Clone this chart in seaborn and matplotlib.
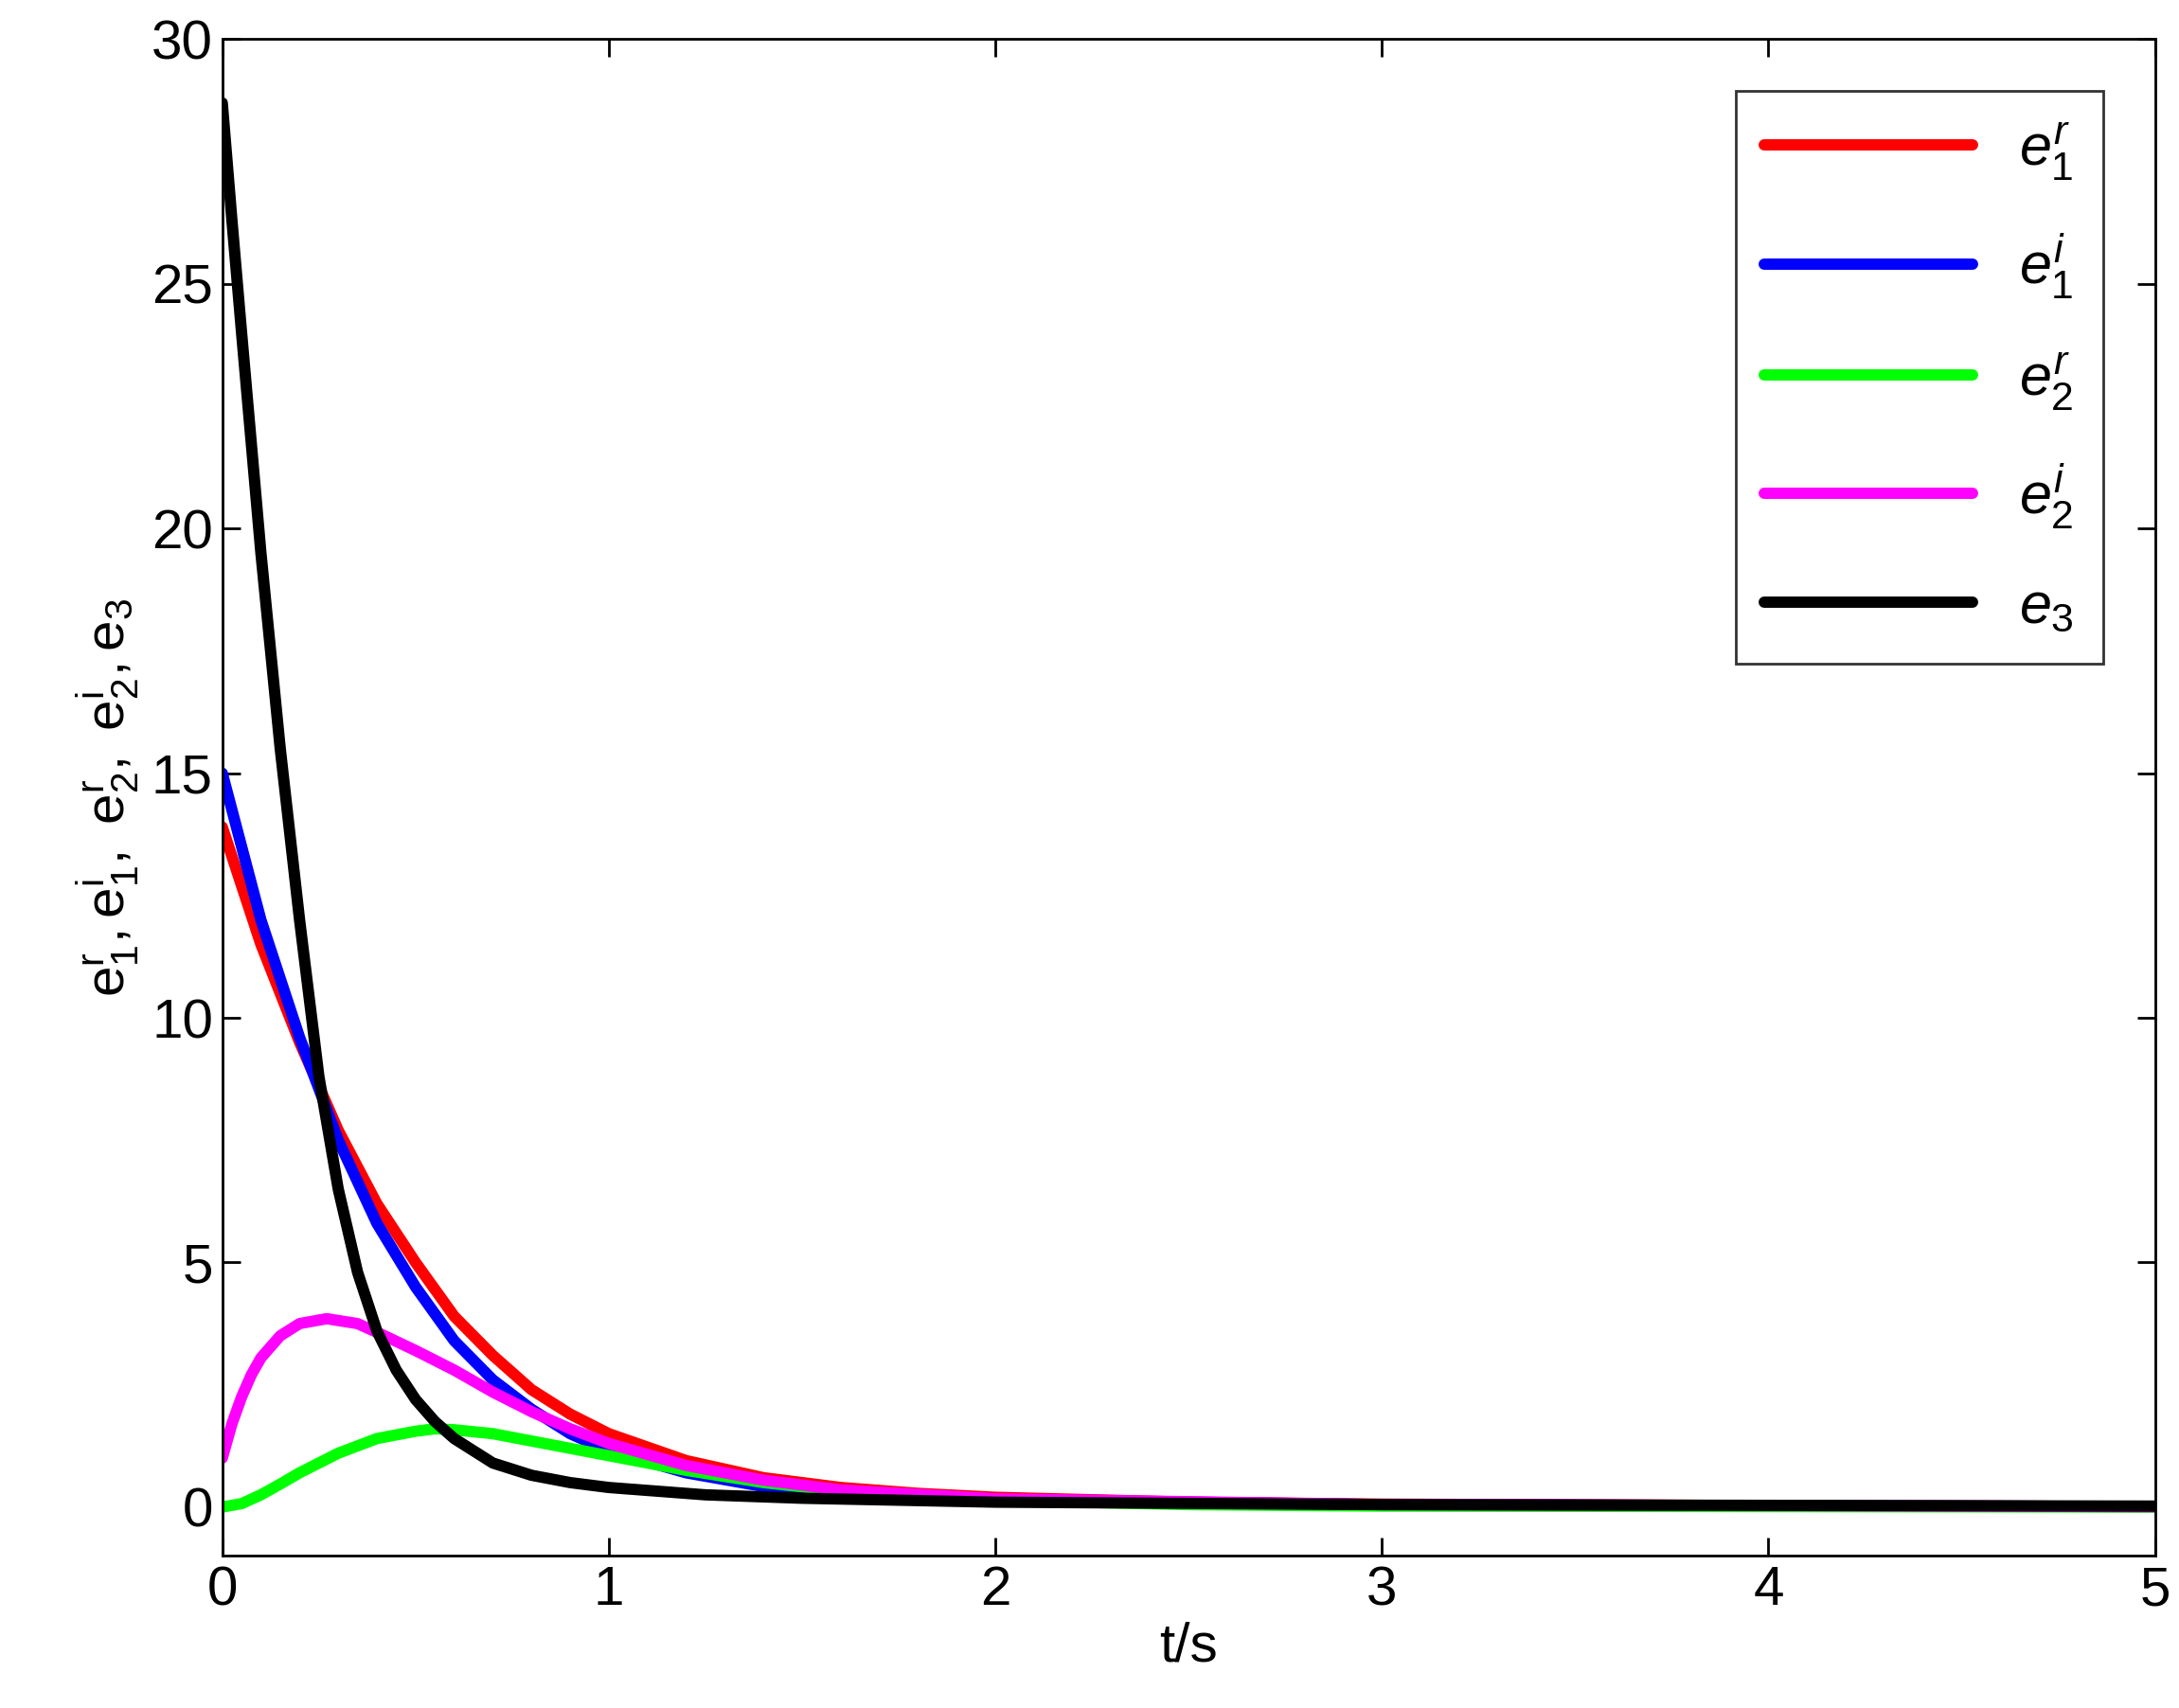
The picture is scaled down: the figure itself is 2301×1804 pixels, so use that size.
import matplotlib
matplotlib.use("Agg")
import matplotlib.pyplot as plt
import seaborn as sns
import pandas as pd

# ─── Data ────────────────────────────────────────────────────────────────────
t_e3 = [0, 0.025, 0.05, 0.1, 0.15, 0.2, 0.25, 0.3, 0.35, 0.4, 0.45, 0.5, 0.55,
        0.6, 0.7, 0.8, 0.9, 1.0, 1.25, 1.5, 2.0, 3.0, 5.0]
e3 = [28.7, 26.3, 24.0, 19.5, 15.5, 12.0, 8.8, 6.5, 4.8, 3.6, 2.8, 2.2, 1.75,
      1.4, 0.9, 0.65, 0.5, 0.4, 0.25, 0.18, 0.1, 0.05, 0.02]

t_e1r = [0, 0.1, 0.2, 0.3, 0.4, 0.5, 0.6, 0.7, 0.8, 0.9, 1.0, 1.2, 1.4, 1.6, 1.8,
         2.0, 2.5, 3.0, 4.0, 5.0]
e1r = [13.9, 11.5, 9.5, 7.7, 6.2, 5.0, 3.9, 3.1, 2.4, 1.9, 1.5, 0.95, 0.6, 0.4,
       0.28, 0.2, 0.1, 0.06, 0.03, 0.01]

t_e1i = [0, 0.1, 0.2, 0.3, 0.4, 0.5, 0.6, 0.7, 0.8, 0.9, 1.0, 1.2, 1.4, 1.6, 2.0,
         3.0, 5.0]
e1i = [15.0, 12.0, 9.6, 7.5, 5.8, 4.5, 3.4, 2.6, 2.0, 1.5, 1.15, 0.7, 0.42, 0.28,
       0.15, 0.05, 0.01]

t_e2i = [0, 0.025, 0.05, 0.075, 0.1, 0.15, 0.2, 0.27, 0.35, 0.42, 0.5, 0.6, 0.7,
         0.8, 0.9, 1.0, 1.2, 1.4, 1.6, 2.0, 3.0, 5.0]
e2i = [1.0, 1.7, 2.25, 2.7, 3.05, 3.5, 3.75, 3.85, 3.75, 3.5, 3.2, 2.8, 2.35,
       1.95, 1.6, 1.3, 0.85, 0.55, 0.35, 0.17, 0.05, 0.01]

t_e2r = [0, 0.05, 0.1, 0.15, 0.2, 0.3, 0.4, 0.5, 0.55, 0.6, 0.7, 0.8, 1.0, 1.2,
         1.4, 1.6, 2.0, 2.5, 3.0, 5.0]
e2r = [0.0, 0.07, 0.25, 0.47, 0.7, 1.1, 1.4, 1.55, 1.6, 1.58, 1.5, 1.35, 1.05,
       0.75, 0.5, 0.33, 0.14, 0.05, 0.02, 0.0]

series = [
    (t_e1r, e1r, "#ff0000", r"$e_1^r$"),
    (t_e1i, e1i, "#0000ff", r"$e_1^i$"),
    (t_e2r, e2r, "#00ff00", r"$e_2^r$"),
    (t_e2i, e2i, "#ff00ff", r"$e_2^i$"),
    (t_e3, e3, "#000000", r"$e_3$"),
]

sns.set_style("ticks")
plt.rcParams["font.family"] = ["Liberation Sans", "DejaVu Sans"]
plt.rcParams["mathtext.fontset"] = "custom"
plt.rcParams["mathtext.it"] = "Liberation Sans:italic"
plt.rcParams["mathtext.rm"] = "Liberation Sans"
plt.rcParams["text.color"] = "black"
plt.rcParams["axes.labelcolor"] = "black"
plt.rcParams["xtick.color"] = "black"
plt.rcParams["ytick.color"] = "black"

fig = plt.figure(figsize=(11.505, 9.02), dpi=200)
ax = fig.add_axes([0.102, 0.089, 0.887, 0.888])

for t, y, c, lab in series:
    df = pd.DataFrame({"t": t, "y": y})
    sns.lineplot(data=df, x="t", y="y", color=c, linewidth=4.3, label=lab, ax=ax)

ax.set_xlim(0, 5)
ax.set_ylim(-1, 30)
ax.set_xticks(range(0, 6))
ax.set_yticks(range(0, 31, 5))
ax.tick_params(direction="in", top=True, right=True, labelsize=21, length=7, width=1)
for s in ax.spines.values():
    s.set_linewidth(1)
    s.set_color("black")
ax.set_xlabel("t/s", fontsize=21, labelpad=2)
ax.set_ylabel(r"$\mathrm{e^r_1,e^i_1,\ e^r_2,\ e^i_2,e_3}$", fontsize=21)

leg = ax.legend(loc="upper right", fontsize=22, frameon=True, fancybox=False,
                edgecolor="black", handlelength=3.6, labelspacing=0.85,
                borderpad=0.5, borderaxespad=0.9)
leg.get_frame().set_linewidth(1)

fig.savefig("out.png", dpi=200)
plt.close(fig)
